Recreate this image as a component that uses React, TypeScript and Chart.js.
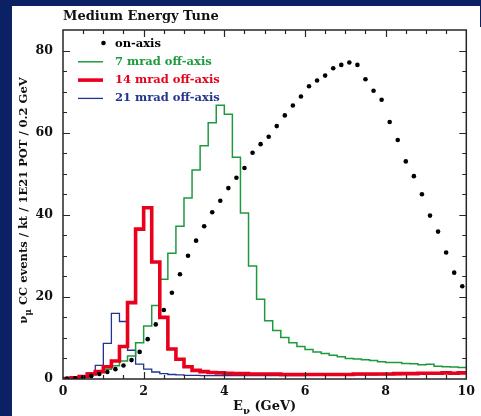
import React, { useEffect, useRef } from "react";
import { Chart, registerables } from "chart.js";

Chart.register(...registerables);

// ---------- data ----------
const BIN_WIDTH = 0.2; // GeV
const X_TICKS = [0, 2, 4, 6, 8, 10];
const Y_TICKS = [0, 20, 40, 60, 80];
const TITLE = "Medium Energy Tune";

// on-axis (points at bin centres, 0.1 ... 9.9 GeV)
const ON_AXIS = [
  0.1, 0.2, 0.4, 0.7, 1.2, 1.7, 2.4, 3.3, 4.6, 6.6,
  9.7, 13.3, 16.8, 21.0, 25.5, 30.0, 33.7, 37.2, 40.6, 43.4,
  46.5, 49.0, 51.4, 55.1, 57.2, 59.0, 61.6, 64.2, 66.6, 68.8,
  71.3, 72.7, 73.9, 75.7, 76.5, 77.1, 76.5, 73.0, 70.2, 68.0,
  62.6, 58.2, 53.0, 49.4, 45.0, 39.8, 35.9, 30.8, 25.9, 22.6,
];

// 7 mrad off-axis (histogram, bins 0.0-0.2 ... 9.8-10.0 GeV)
const MRAD7 = [
  0.1, 0.3, 0.6, 1.1, 1.8, 2.4, 3.2, 4.4, 5.6, 8.8,
  12.9, 17.9, 24.3, 30.6, 37.2, 44.1, 50.9, 56.8, 62.4, 66.7,
  64.5, 54.0, 40.4, 27.5, 19.4, 14.2, 11.8, 10.1, 8.8, 7.9,
  7.2, 6.6, 6.2, 5.8, 5.4, 5.0, 4.9, 4.7, 4.5, 4.2,
  4.0, 4.0, 3.8, 3.7, 3.5, 3.6, 3.1, 3.0, 2.9, 2.8,
];

// 14 mrad off-axis
const MRAD14 = [
  0.1, 0.3, 0.6, 1.2, 1.8, 3.0, 4.4, 7.9, 18.6, 36.5,
  41.7, 28.5, 15.0, 7.3, 4.8, 3.0, 2.1, 1.8, 1.6, 1.5,
  1.4, 1.3, 1.3, 1.2, 1.2, 1.2, 1.2, 1.1, 1.1, 1.1,
  1.1, 1.1, 1.1, 1.1, 1.1, 1.1, 1.2, 1.2, 1.2, 1.2,
  1.2, 1.3, 1.3, 1.3, 1.4, 1.4, 1.4, 1.5, 1.4, 1.5,
];

// 21 mrad off-axis
const MRAD21 = [
  0.1, 0.3, 0.8, 1.5, 3.3, 8.7, 16.0, 14.0, 7.0, 3.6,
  2.4, 1.7, 1.3, 1.1, 1.0, 0.9, 0.9, 0.8, 0.8, 0.8,
  0.8, 0.8, 0.8, 0.8, 0.8, 0.8, 0.8, 0.8, 0.8, 0.8,
  0.9, 0.9, 0.9, 0.9, 0.9, 1.0, 1.0, 1.0, 1.0, 1.1,
  1.1, 1.1, 1.2, 1.2, 1.3, 1.4, 1.4, 1.5, 1.5, 1.5,
];

// ---------- style ----------
const FONT = '"DejaVu Serif", serif';
const GREEN = "#1e9a3e";
const RED = "#e8001c";
const BLUE = "#22348c";
const NAVY = "#0b2163";

function centres(values: number[]) {
  return values.map((v, i) => ({ x: (i + 0.5) * BIN_WIDTH, y: v }));
}
function edges(values: number[]) {
  const pts = values.map((v, i) => ({ x: i * BIN_WIDTH, y: v }));
  pts.push({ x: values.length * BIN_WIDTH, y: values[values.length - 1] });
  return pts;
}

type Part = { t: string; sub?: boolean };
function richWidth(ctx: CanvasRenderingContext2D, parts: Part[], size: number, subSize: number) {
  let w = 0;
  for (const p of parts) {
    ctx.font = `bold ${p.sub ? subSize : size}px ${FONT}`;
    w += ctx.measureText(p.t).width;
  }
  return w;
}
function drawRich(ctx: CanvasRenderingContext2D, parts: Part[], x: number, y: number, size: number, subSize: number, subDrop: number) {
  const w = richWidth(ctx, parts, size, subSize);
  let cx = x - w / 2;
  ctx.textAlign = "left";
  ctx.textBaseline = "alphabetic";
  for (const p of parts) {
    ctx.font = `bold ${p.sub ? subSize : size}px ${FONT}`;
    ctx.fillText(p.t, cx, y + (p.sub ? subDrop : 0));
    cx += ctx.measureText(p.t).width;
  }
}

const decor = {
  id: "decor",
  afterDraw(chart: any) {
    const ctx: CanvasRenderingContext2D = chart.ctx;
    const { left, right, top, bottom } = chart.chartArea;
    const xs = chart.scales.x;
    const ys = chart.scales.y;
    ctx.save();

    // frame
    ctx.strokeStyle = "#262626";
    ctx.lineWidth = 1.5;
    ctx.strokeRect(left, top, right - left, bottom - top);

    // inward ticks on all four sides
    ctx.lineWidth = 1.2;
    ctx.beginPath();
    for (let v = 0.5; v < 10; v += 0.5) {
      const major = X_TICKS.includes(v);
      const len = major ? 7 : 4;
      const px = Math.round(xs.getPixelForValue(v)) + 0.5;
      ctx.moveTo(px, bottom);
      ctx.lineTo(px, bottom - len);
      ctx.moveTo(px, top);
      ctx.lineTo(px, top + len);
    }
    for (let v = 5; v <= 80; v += 5) {
      const major = Y_TICKS.includes(v);
      const len = major ? 7 : 4;
      const py = Math.round(ys.getPixelForValue(v)) + 0.5;
      ctx.moveTo(left, py);
      ctx.lineTo(left + len, py);
      ctx.moveTo(right, py);
      ctx.lineTo(right - len, py);
    }
    ctx.stroke();

    // title
    ctx.fillStyle = "#111";
    ctx.font = `bold 13px ${FONT}`;
    ctx.textAlign = "left";
    ctx.textBaseline = "alphabetic";
    ctx.fillText(TITLE, left, 13.5);

    // legend
    const ds = chart.data.datasets;
    const order = [0, 2, 1, 3];
    const lineX0 = left + 15;
    const lineX1 = left + 40;
    const textX = left + 52;
    let base = top + 16.5;
    ctx.font = `bold 11.5px ${FONT}`;
    for (const idx of order) {
      const d = ds[idx];
      if (idx === 0) {
        ctx.fillStyle = "#000";
        ctx.beginPath();
        ctx.arc(left + 40.5, base - 3.5, 2.3, 0, Math.PI * 2);
        ctx.fill();
        ctx.fillStyle = "#000";
      } else {
        ctx.strokeStyle = d.borderColor;
        ctx.lineWidth = d.borderWidth;
        ctx.beginPath();
        ctx.moveTo(lineX0, base - 3);
        ctx.lineTo(lineX1, base - 3);
        ctx.stroke();
        ctx.fillStyle = d.borderColor;
      }
      ctx.fillText(d.label, textX, base);
      base += 18.3;
    }

    // x axis title: E_nu (GeV)
    ctx.fillStyle = "#111";
    drawRich(ctx, [{ t: "E" }, { t: "ν", sub: true }, { t: " (GeV)" }], (left + right) / 2, bottom + 31, 13, 10, 4);

    // y axis title
    ctx.save();
    ctx.translate(14.5, (top + bottom) / 2 - 4);
    ctx.rotate(-Math.PI / 2);
    drawRich(
      ctx,
      [{ t: "ν" }, { t: "μ", sub: true }, { t: " CC events / kt / 1E21 POT / 0.2 GeV" }],
      0, 0, 11.5, 9, 4
    );
    ctx.restore();

    ctx.restore();
  },
};

export default function App() {
  const ref = useRef<HTMLCanvasElement | null>(null);

  useEffect(() => {
    if (!ref.current) return;
    const chart = new Chart(ref.current, {
      type: "scatter",
      data: {
        datasets: [
          {
            label: "on-axis",
            data: centres(ON_AXIS),
            showLine: false,
            pointRadius: 2.3,
            pointBackgroundColor: "#000",
            pointBorderWidth: 0,
            borderColor: "#000",
          },
          {
            label: "14 mrad off-axis",
            data: edges(MRAD14),
            showLine: true,
            stepped: true,
            borderColor: RED,
            borderWidth: 3.6,
            pointRadius: 0,
            fill: false,
          },
          {
            label: "7 mrad off-axis",
            data: edges(MRAD7),
            showLine: true,
            stepped: true,
            borderColor: GREEN,
            borderWidth: 1.5,
            pointRadius: 0,
            fill: false,
          },
          {
            label: "21 mrad off-axis",
            data: edges(MRAD21),
            showLine: true,
            stepped: true,
            borderColor: BLUE,
            borderWidth: 1.3,
            pointRadius: 0,
            fill: false,
          },
        ],
      } as any,
      options: {
        animation: false,
        responsive: false,
        devicePixelRatio: 1,
        events: [],
        layout: { padding: { top: 24, right: 10, left: 0, bottom: 0 } },
        plugins: {
          legend: { display: false },
          tooltip: { enabled: false },
          title: { display: false },
        },
        scales: {
          x: {
            type: "linear",
            min: 0,
            max: 10,
            afterFit: (s: any) => {
              s.height = 37;
            },
            afterBuildTicks: (s: any) => {
              s.ticks = X_TICKS.map((v) => ({ value: v }));
            },
            grid: { display: false, drawTicks: false },
            border: { display: false },
            ticks: {
              padding: 5,
              color: "#111",
              font: { family: FONT, size: 12.5, weight: "bold" },
              maxRotation: 0,
            },
          },
          y: {
            type: "linear",
            min: 0,
            max: 85,
            afterFit: (s: any) => {
              s.width = 51;
            },
            afterBuildTicks: (s: any) => {
              s.ticks = Y_TICKS.map((v) => ({ value: v }));
            },
            grid: { display: false, drawTicks: false },
            border: { display: false },
            ticks: {
              padding: 10,
              color: "#111",
              font: { family: FONT, size: 12.5, weight: "bold" },
            },
          },
        },
      } as any,
      plugins: [decor],
    });
    return () => chart.destroy();
  }, []);

  return (
    <div style={{ position: "fixed", left: 0, top: 0, width: 481, height: 416, background: NAVY, overflow: "hidden" }}>
      <div style={{ position: "absolute", left: 12, top: 6, width: 469, height: 410, background: "#fff" }}>
        <canvas ref={ref} width={468} height={410} style={{ display: "block", width: 468, height: 410 }} />
      </div>
      <div style={{ position: "absolute", left: 480, top: 0, width: 1, height: 27, background: NAVY }} />
    </div>
  );
}
